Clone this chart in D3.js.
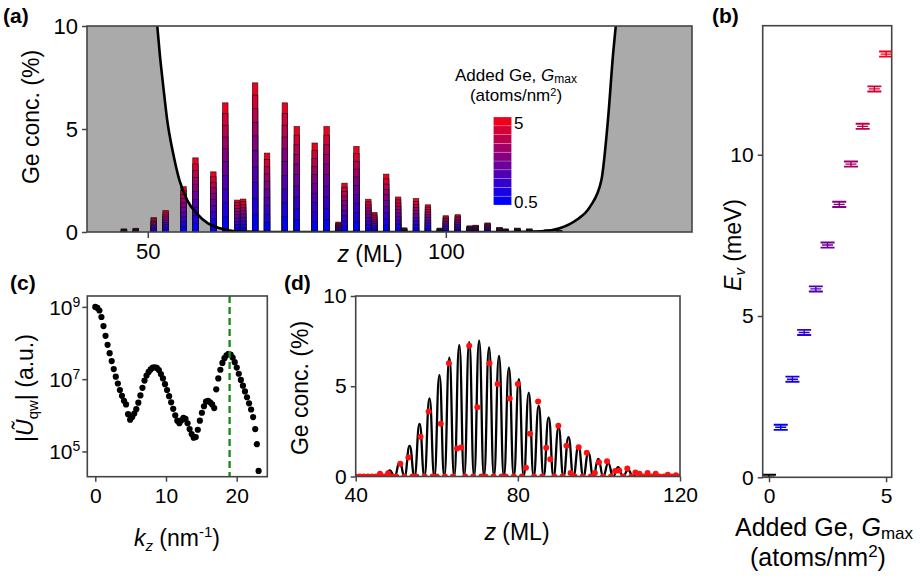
<!DOCTYPE html>
<html><head><meta charset="utf-8">
<script src="https://cdn.jsdelivr.net/npm/d3@7"></script>
<style>body{margin:0;background:#fff}</style>
</head><body><svg id="fig" width="920" height="578"></svg>
<script>
// ---------------- DATA ----------------
// Panel (a)/(d): Ge concentration (%) per monolayer for Gmax = 5
const zGrid = [40,41,42,43,44,45,46,47,48,49,50,51,52,53,54,55,56,57,58,59,60,61,62,63,64,65,66,67,68,69,70,71,72,73,74,75,76,77,78,79,80,81,82,83,84,85,86,87,88,89,90,91,92,93,94,95,96,97,98,99,100,101,102,103,104,105,106,107,108,109,110,111,112,113,114,115,116,117,118,119,120];
const geConc = [0,0,0,0,0,0,0.15,0,0.18,0,0,0.7,0,1.05,0,0,2.2,0,3.6,0,0,2.92,0,6.27,0,1.55,1.6,0,7.24,0,3.83,0,0,6.27,0,5.12,0,0,4.32,0,5.12,0,0.48,2.37,0,4.15,0,1.59,0.95,0,2.81,0,1.7,0.2,0,1.62,0,1.32,0,0.19,0.79,0,0.84,0,0.3,0.33,0,0.44,0,0.22,0.15,0,0.19,0,0.15,0,0,0.1,0,0.07,0];
// Added Ge levels and fraction of the Gmax=5 profile at each level
const gLevels = [0.5,1,1.5,2,2.5,3,3.5,4,4.5,5];
const levelFrac = [0.12,0.226,0.333,0.436,0.545,0.644,0.735,0.827,0.918,1];
// Barrier (gray) curve in (a)
const barrierZ = [38,44,48,50,51,51.6,52.0,52.6,53.25,54.25,55.3,56.6,58.2,60.1,62.1,64.3,70,90,110,116,119.1,121.9,124.2,126.1,127.2,128.07,128.5,129.2,130.5,133,137,143];
const barrierV = [200,60,28,16,12,9.97,8.67,7.06,5.44,3.82,2.52,1.55,0.906,0.42,0.18,0.05,0.0,0.0,0.0,0.03,0.18,0.58,1.23,2.52,5.44,8.67,9.97,12,16,30,60,200];
// Panel (d) continuous profile (valleys / peaks)
const lineZ = [40,47.2,48.4,49.6,50.85,52.05,53.3,54.5,55.75,56.95,58.2,59.4,60.65,61.85,63.1,64.3,65.55,66.75,68.0,69.2,70.45,71.65,72.9,74.1,75.35,76.55,77.8,79.0,80.25,81.45,82.7,83.9,85.15,86.35,87.6,88.8,90.05,91.25,92.5,93.7,94.95,96.15,97.4,98.6,99.85,101.05,102.3,103.5,104.75,105.95,107.2,108.4,109.65,110.85,112.1,113.3,114.55,115.75,120];
const lineV = [0,0,0.34,0,0.8,0,1.7,0,2.92,0,4.33,0,5.62,0,6.58,0,7.28,0,7.44,0,7.52,0,7.15,0,6.68,0,6.03,0,5.4,0,4.65,0,3.92,0,3.28,0,2.73,0,2.18,0,1.7,0,1.31,0,0.98,0,0.74,0,0.52,0,0.37,0,0.22,0,0.12,0,0.07,0,0];
// Panel (c): |U_qw| (log10) vs kz
const kz = [0,0.29,0.58,0.87,1.16,1.45,1.74,2.03,2.32,2.61,2.9,3.19,3.48,3.77,4.06,4.35,4.64,4.93,5.22,5.51,5.8,6.09,6.38,6.67,6.96,7.25,7.54,7.83,8.12,8.41,8.7,8.99,9.28,9.57,9.86,10.15,10.44,10.73,11.02,11.31,11.6,11.89,12.18,12.47,12.76,13.05,13.34,13.63,13.92,14.21,14.5,14.79,15.08,15.37,15.66,15.95,16.24,16.53,16.82,17.11,17.4,17.69,17.98,18.27,18.56,18.85,19.14,19.43,19.72,20.01,20.3,20.59,20.88,21.17,21.46,21.75,22.04,22.33,22.62,22.85,23.1];
const uqwLog10 = [9.0,8.97,8.9,8.72,8.47,8.2,7.95,7.72,7.5,7.28,7.07,6.88,6.7,6.54,6.4,6.3,6.03,5.88,5.95,6.05,6.17,6.35,6.55,6.76,6.96,7.1,7.2,7.27,7.32,7.33,7.31,7.25,7.14,7.02,6.86,6.7,6.53,6.36,6.18,6.0,5.85,5.78,5.86,5.93,5.9,5.78,5.62,5.48,5.38,5.4,5.6,5.85,6.07,6.25,6.38,6.4,6.36,6.3,6.2,6.72,7.02,7.26,7.45,7.58,7.66,7.7,7.68,7.6,7.47,7.32,7.15,6.98,6.82,6.66,6.5,6.33,6.16,5.95,5.62,5.2,4.46];
const kzMarker = 19;
// Panel (b): valley splitting vs added Ge
const gAdded = [0,0.5,1,1.5,2,2.5,3,3.5,4,4.5,5];
const evMeV = [0,1.55,3.04,4.49,5.84,7.2,8.46,9.71,10.88,12.04,13.12];
const evErr = [0.08,0.08,0.08,0.08,0.08,0.08,0.08,0.08,0.08,0.08,0.08];
// tick labels
const ticksAy = [0,5,10], ticksAx = [50,100];
const ticksCx = [0,10,20], ticksCyExp = [9,7,5];
const ticksDx = [40,80,120], ticksDy = [0,5,10];
const ticksBx = [0,5], ticksBy = [0,5,10];

// ---------------- DRAW ----------------
const FONT = '"Liberation Sans", Arial, Helvetica, sans-serif';
const svg = d3.select('#fig');
svg.append('rect').attr('width',920).attr('height',578).attr('fill','#fff');
const FR = '#444';
const color = d3.scaleLinear().domain([0.5,5]).range(['#0000ff','#f0001c']).interpolate(d3.interpolateRgb);
const fmtInt = d3.format('d');

function styleAxis(g, fs){
  g.attr('font-family', FONT).attr('font-size', fs);
  g.select('.domain').remove();
  g.selectAll('.tick line').attr('stroke', FR).attr('stroke-width', 1.5);
  g.selectAll('.tick text').attr('fill', '#000');
}
function frame(box){
  svg.append('rect').attr('x',box.l).attr('y',box.t).attr('width',box.r-box.l).attr('height',box.b-box.t)
    .attr('fill','none').attr('stroke',FR).attr('stroke-width',1.6);
}
function clip(id, box){
  svg.append('clipPath').attr('id',id).append('rect').attr('x',box.l).attr('y',box.t).attr('width',box.r-box.l).attr('height',box.b-box.t);
}
function label(txt, x, y){
  svg.append('text').attr('x',x).attr('y',y).attr('font-family',FONT).attr('font-weight','bold').attr('font-size',21).text(txt);
}

// ---- Panel (a)
const A = {l:87, r:692, t:26, b:232};
const xA = d3.scaleLinear().domain([39.8,141.3]).range([A.l,A.r]);
const yA = d3.scaleLinear().domain([0,10]).range([A.b,A.t]);
clip('clipA', A);
const gA = svg.append('g').attr('clip-path','url(#clipA)');
const barrierPts = barrierZ.map((z,i)=>[z,barrierV[i]]);
gA.append('path').datum(barrierPts)
  .attr('d', d3.area().x(d=>xA(d[0])).y0(yA(0)).y1(d=>yA(d[1])).curve(d3.curveMonotoneX))
  .attr('fill','#aaaaaa');
const bars = zGrid.map((z,i)=>({z, v:geConc[i]})).filter(d=>d.v>0);
bars.forEach(d=>{
  for(let k=gLevels.length-1;k>=0;k--){
    const h = d.v*levelFrac[k];
    gA.append('rect').attr('x',xA(d.z-0.46)).attr('width',xA(d.z+0.46)-xA(d.z-0.46))
      .attr('y',yA(h)).attr('height',yA(0)-yA(h))
      .attr('fill',color(gLevels[k])).attr('stroke','#111').attr('stroke-width',0.7).attr('stroke-opacity',0.85);
  }
});
gA.append('path').datum(barrierPts)
  .attr('d', d3.line().x(d=>xA(d[0])).y(d=>yA(d[1])).curve(d3.curveMonotoneX))
  .attr('fill','none').attr('stroke','#000').attr('stroke-width',2.6);
frame(A);
styleAxis(svg.append('g').attr('transform',`translate(${A.l},0)`).call(d3.axisLeft(yA).tickValues(ticksAy).tickFormat(fmtInt).tickSize(5).tickPadding(4)), 22);
styleAxis(svg.append('g').attr('transform',`translate(0,${A.b})`).call(d3.axisBottom(xA).tickValues(ticksAx).tickFormat(fmtInt).tickSize(6).tickPadding(5)), 22);
svg.append('text').attr('transform','translate(39,117) rotate(-90)').attr('text-anchor','middle')
  .attr('font-family',FONT).attr('font-size',23).text('Ge conc. (%)');
{
  const t = svg.append('text').attr('x',370).attr('y',262).attr('text-anchor','middle').attr('font-family',FONT).attr('font-size',23);
  t.append('tspan').attr('font-style','italic').text('z');
  t.append('tspan').text(' (ML)');
}
// legend
{
  const t1 = svg.append('text').attr('x',516).attr('y',81).attr('text-anchor','middle').attr('font-family',FONT).attr('font-size',17);
  t1.append('tspan').text('Added Ge, ');
  t1.append('tspan').attr('font-style','italic').text('G');
  t1.append('tspan').attr('font-size',12).attr('dy',2).text('max');
  const t2 = svg.append('text').attr('x',516).attr('y',101).attr('text-anchor','middle').attr('font-family',FONT).attr('font-size',17);
  t2.append('tspan').text('(atoms/nm');
  t2.append('tspan').attr('font-size',11).attr('dy',-5).text('2');
  t2.append('tspan').attr('dy',5).text(')');
  const cb = d3.scaleBand().domain(gLevels).range([205,117]);
  svg.selectAll('.cb').data(gLevels).enter().append('rect')
    .attr('x',493.5).attr('width',18).attr('y',d=>cb(d)).attr('height',cb.bandwidth())
    .attr('fill',d=>color(d)).attr('stroke','rgba(255,255,255,0.35)').attr('stroke-width',0.6);
  svg.append('text').attr('x',514).attr('y',129).attr('font-family',FONT).attr('font-size',17).text(gLevels[gLevels.length-1]);
  svg.append('text').attr('x',514).attr('y',208).attr('font-family',FONT).attr('font-size',17).text(gLevels[0]);
}
label('(a)', 3, 23);

// ---- Panel (c)
const C = {l:87.3, r:267.3, t:296, b:476.7};
const xC = d3.scaleLinear().domain([-1.13,24.33]).range([C.l,C.r]);
const yC = d3.scaleLog().domain([2e4,2e9]).range([C.b,C.t]);
clip('clipC', C);
const gC = svg.append('g').attr('clip-path','url(#clipC)');
gC.selectAll('circle').data(kz.map((k,i)=>[k,Math.pow(10,uqwLog10[i])])).enter().append('circle')
  .attr('cx',d=>xC(d[0])).attr('cy',d=>yC(d[1])).attr('r',3.1).attr('fill','#000');
gC.append('line').attr('x1',xC(kzMarker)).attr('x2',xC(kzMarker)).attr('y1',C.t).attr('y2',C.b)
  .attr('stroke','#1e8c1e').attr('stroke-width',2.4).attr('stroke-dasharray','7,4');
frame(C);
styleAxis(svg.append('g').attr('transform',`translate(0,${C.b})`).call(d3.axisBottom(xC).tickValues(ticksCx).tickFormat(fmtInt).tickSize(5).tickPadding(6)), 21);
{
  const g = svg.append('g').attr('transform',`translate(${C.l},0)`).call(d3.axisLeft(yC).tickValues(ticksCyExp.map(e=>Math.pow(10,e))).tickFormat('').tickSize(5));
  styleAxis(g, 21);
  ticksCyExp.forEach(e=>{
    const t = svg.append('text').attr('x',C.l-7).attr('y',yC(Math.pow(10,e))+8).attr('text-anchor','end').attr('font-family',FONT).attr('font-size',21);
    t.append('tspan').text('10');
    t.append('tspan').attr('font-size',14).attr('dy',-8).text(e);
  });
}
{
  const t = svg.append('text').attr('transform','translate(33,388) rotate(-90)').attr('text-anchor','middle').attr('font-family',FONT).attr('font-size',23);
  t.append('tspan').text('|');
  t.append('tspan').attr('font-style','italic').text('\u0168');
  t.append('tspan').attr('font-size',15).attr('dy',5).text('qw');
  t.append('tspan').attr('dy',-5).text('| (a.u.)');
}
{
  const t = svg.append('text').attr('x',177).attr('y',546).attr('text-anchor','middle').attr('font-family',FONT).attr('font-size',23);
  t.append('tspan').attr('font-style','italic').text('k');
  t.append('tspan').attr('font-style','italic').attr('font-size',15).attr('dy',5).text('z');
  t.append('tspan').attr('dy',-5).text(' (nm');
  t.append('tspan').attr('font-size',15).attr('dy',-9).text('-1');
  t.append('tspan').attr('dy',9).text(')');
}
label('(c)', 10, 290);

// ---- Panel (d)
const D = {l:355.7, r:680, t:296, b:476.5};
const xD = d3.scaleLinear().domain([40,120]).range([D.l,D.r]);
const yD = d3.scaleLinear().domain([0,10]).range([D.b,D.t]);
clip('clipD', D);
const gD = svg.append('g').attr('clip-path','url(#clipD)');
gD.append('path').datum(lineZ.map((z,i)=>[z,lineV[i]]))
  .attr('d', d3.line().x(d=>xD(d[0])).y(d=>yD(d[1])).curve(d3.curveBumpX))
  .attr('fill','none').attr('stroke','#000').attr('stroke-width',2.3);
gD.selectAll('circle').data(zGrid.map((z,i)=>[z,geConc[i]])).enter().append('circle')
  .attr('cx',d=>xD(d[0])).attr('cy',d=>yD(d[1])).attr('r',3).attr('fill','#ff1010');
frame(D);
styleAxis(svg.append('g').attr('transform',`translate(${D.l},0)`).call(d3.axisLeft(yD).tickValues(ticksDy).tickFormat(fmtInt).tickSize(5).tickPadding(4)), 21);
styleAxis(svg.append('g').attr('transform',`translate(0,${D.b})`).call(d3.axisBottom(xD).tickValues(ticksDx).tickFormat(fmtInt).tickSize(5).tickPadding(6)), 21);
svg.append('text').attr('transform','translate(308,388) rotate(-90)').attr('text-anchor','middle')
  .attr('font-family',FONT).attr('font-size',23).text('Ge conc. (%)');
{
  const t = svg.append('text').attr('x',517).attr('y',540).attr('text-anchor','middle').attr('font-family',FONT).attr('font-size',23);
  t.append('tspan').attr('font-style','italic').text('z');
  t.append('tspan').text(' (ML)');
}
label('(d)', 284, 290);

// ---- Panel (b)
const B = {l:762.7, r:891.7, t:25.7, b:477.3};
const xB = d3.scaleLinear().domain([-0.27,5.24]).range([B.l,B.r]);
const yB = d3.scaleLinear().domain([0,14]).range([B.b,B.t]);
clip('clipB', B);
const gB = svg.append('g').attr('clip-path','url(#clipB)');
gAdded.forEach((gv,i)=>{
  const cx = xB(gv), cy = yB(evMeV[i]);
  const e = yB(0)-yB(evErr[i]);
  const col = gv===0 ? '#000' : color(gv);
  const w = 7;
  const g = gB.append('g').attr('stroke',col).attr('stroke-width',1.9).attr('fill','none');
  g.append('line').attr('x1',cx-w).attr('x2',cx+w).attr('y1',cy-e).attr('y2',cy-e);
  g.append('line').attr('x1',cx-w).attr('x2',cx+w).attr('y1',cy+e).attr('y2',cy+e);
  g.append('line').attr('x1',cx-w+1.5).attr('x2',cx+w-1.5).attr('y1',cy).attr('y2',cy).attr('stroke-width',1.4);
  g.append('line').attr('x1',cx).attr('x2',cx).attr('y1',cy-e).attr('y2',cy+e).attr('stroke-width',1.4);
});
frame(B);
styleAxis(svg.append('g').attr('transform',`translate(${B.l},0)`).call(d3.axisLeft(yB).tickValues(ticksBy).tickFormat(fmtInt).tickSize(5).tickPadding(4)), 21);
styleAxis(svg.append('g').attr('transform',`translate(0,${B.b})`).call(d3.axisBottom(xB).tickValues(ticksBx).tickFormat(fmtInt).tickSize(5).tickPadding(6)), 21);
{
  const t = svg.append('text').attr('transform','translate(741,245) rotate(-90)').attr('text-anchor','middle').attr('font-family',FONT).attr('font-size',23);
  t.append('tspan').attr('font-style','italic').text('E');
  t.append('tspan').attr('font-style','italic').attr('font-size',15).attr('dy',4).text('v');
  t.append('tspan').attr('dy',-4).text(' (meV)');
  const t1 = svg.append('text').attr('x',824).attr('y',536).attr('text-anchor','middle').attr('font-family',FONT).attr('font-size',25);
  t1.append('tspan').text('Added Ge, ');
  t1.append('tspan').attr('font-style','italic').text('G');
  t1.append('tspan').attr('font-size',17).attr('dy',3).text('max');
  const t2 = svg.append('text').attr('x',818).attr('y',566).attr('text-anchor','middle').attr('font-family',FONT).attr('font-size',25);
  t2.append('tspan').text('(atoms/nm');
  t2.append('tspan').attr('font-size',17).attr('dy',-9).text('2');
  t2.append('tspan').attr('dy',9).text(')');
}
label('(b)', 712, 23);
</script></body></html>
